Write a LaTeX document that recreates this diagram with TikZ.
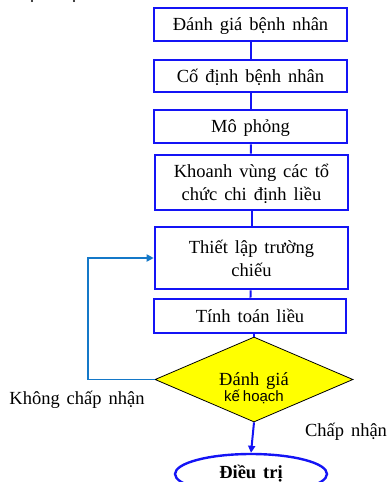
\documentclass[tikz,border=0pt]{standalone}
\usepackage{fontspec}
\setmainfont[WordSpace=1.5]{Liberation Serif}
\newfontfamily\sansf[WordSpace=0.7]{Liberation Sans}
\usetikzlibrary{shapes.geometric,arrows.meta}
\definecolor{boxblue}{RGB}{20,20,245}
\definecolor{loopblue}{RGB}{20,120,200}
\definecolor{dyellow}{RGB}{255,255,0}
\tikzset{
  stepbox/.style={draw=boxblue, line width=2.6pt, fill=white, minimum width=193pt, inner sep=0pt, align=center, text depth=0pt, font=\fontsize{18.5}{23}\selectfont},
  link/.style={draw=boxblue, line width=2pt},
  lbl/.style={font=\fontsize{18.5}{22}\selectfont, inner sep=0pt}
}
\begin{document}
\begin{tikzpicture}[x=1pt,y=-1pt]
\useasboundingbox (0,0) rectangle (387,482);
\fill (32,1) circle (1.2);
\fill (74,1) circle (1.2);
\node[stepbox, minimum height=33pt] (b1) at (250.5,24.5) {Đánh giá bệnh nhân};
\node[stepbox, minimum height=32pt] (b2) at (250.5,76) {Cố định bệnh nhân};
\node[stepbox, minimum height=33pt] (b3) at (250.5,126.5) {Mô phỏng};
\node[stepbox, minimum height=55pt] (b4) at (251.5,182.5) {Khoanh vùng các tổ\\chức chi định liều};
\node[stepbox, minimum height=62pt] (b5) at (251.5,258) {Thiết lập trường\\chiếu};
\node[stepbox, minimum height=34pt, minimum width=192pt] (b6) at (250,316) {Tính toán liều};
\node[diamond, draw=black, line width=0.8pt, fill=dyellow, minimum width=198pt, minimum height=85pt, inner sep=0pt] (d) at (254,379.5) {};
\node[align=center, inner sep=0pt] (dt) at (254,388)
  {\fontsize{18.5}{22}\selectfont Đánh giá\\[-1pt]{\sansf\fontsize{15}{18}\selectfont kế hoạch}};
\node[ellipse, draw=boxblue, line width=2.4pt, minimum width=152pt, minimum height=40pt, inner sep=0pt, font=\bfseries\fontsize{18.5}{21}\selectfont] (e) at (251,474) {Điều trị};
\draw[link] (b1) -- (b2);
\draw[link] (b2) -- (b3);
\draw[link] (b3) -- (b4);
\draw[link] (b4) -- (b5);
\draw[link] (b5) -- (b6);
\draw[link] (b6.south -| d.north) -- (d.north);
\draw[link, -{Triangle[length=7pt,width=7pt]}] (d.south) -- (e.north);
\coordinate (lp) at (88,379.5);
\draw[draw=loopblue, line width=1.8pt, -{Triangle[length=7pt,width=7pt]}] (d.west) -- (lp) |- (b5.west);
\node[lbl] (no) at (77,400) {Không chấp nhận};
\node[lbl] (yes) at (346,432) {Chấp nhận};
\end{tikzpicture}
\end{document}
